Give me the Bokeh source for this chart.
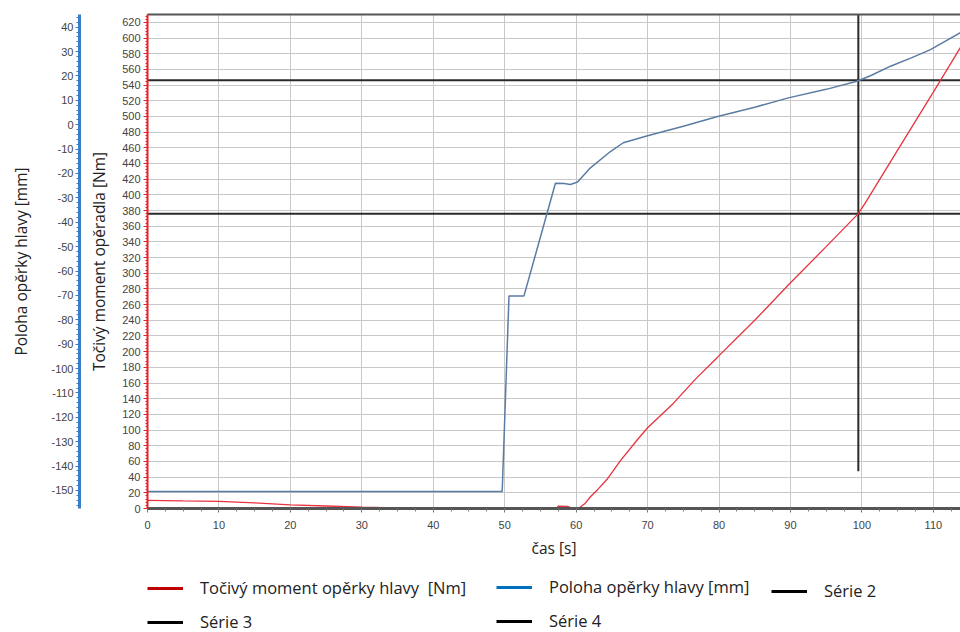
from bokeh.plotting import figure
from bokeh.layouts import column
from bokeh.models import (LinearAxis, Range1d, Legend, LegendItem, FixedTicker,
                          SingleIntervalTicker, NumeralTickFormatter)
from bokeh.embed import file_html
from bokeh.resources import INLINE

# ---- data ----
time_red = [0, 5, 10, 15, 20, 25, 30, 35, 40, 45, 50, 55, 57.3, 57.5, 58.8, 59.3,
            60.5, 61.2, 62, 63, 64.4, 66.2, 68.6, 70, 73.6, 76.7, 79.8, 85, 89.7,
            95, 99.5, 100.5, 105, 110, 113.8]
torque_red = [10.3, 9.6, 9.0, 7.2, 4.5, 3.2, 1.8, 0.9, 0.4, 0.3, 0.3, 0.4, 0.5, 3.0,
              2.8, 0.8, 1.2, 6, 15, 24, 38, 61, 88, 103, 134, 165, 193, 240, 285,
              334, 376, 390, 457, 531, 588]

time_blue = [0, 49.65, 50.6, 52.7, 57.1, 58.3, 59.2, 60.2, 62.0, 64.8, 66.6, 70.0,
             75, 79.8, 85, 89.7, 95, 99.3, 101.2, 104, 107, 109.6, 113.8]
pos_blue = [-150.4, -150.4, -70.2, -70.2, -24.0, -24.1, -24.5, -23.5, -17.7, -11.0,
            -7.4, -4.5, -0.6, 3.4, 7.2, 11.0, 14.5, 17.8, 20.1, 24.0, 27.5, 30.8, 37.8]

serie2_x = [0, 113.8]
serie2_y = [546, 546]
serie3_x = [0, 113.8]
serie3_y = [376, 376]
serie4_x = [99.5, 99.5]
serie4_y = [47.6, 630]

legend_labels = ["Točivý moment opěrky hlavy  [Nm]", "Poloha opěrky hlavy [mm]",
                 "Série 2", "Série 3", "Série 4"]

x_title = "čas [s]"
y_title_torque = "Točivý moment opěradla [Nm]"
y_title_pos = "Poloha opěrky hlavy [mm]"

TICK_FONT = "Liberation Sans"
TITLE_FONT = "Open Sans"
NAN = float("nan")

p = figure(width=960, height=572, output_backend="svg", toolbar_location=None,
           x_range=Range1d(0, 113.8), y_range=Range1d(0, 630),
           min_border_left=147, min_border_right=0, min_border_top=14,
           min_border_bottom=64)
p.outline_line_color = None
p.background_fill_color = "white"

p.extra_y_ranges = {"blue": Range1d(-157.4, 45.2)}

# grid
p.xgrid.grid_line_color = "#c8c8c8"
p.ygrid.grid_line_color = "#c8c8c8"

# x axis
xa = p.xaxis[0]
xa.ticker = SingleIntervalTicker(interval=10, num_minor_ticks=4)
xa.axis_line_color = "#555555"
xa.axis_line_width = 3
xa.major_tick_line_color = "#777777"
xa.major_tick_out = 4
xa.major_tick_in = 0
xa.minor_tick_line_color = "#777777"
xa.minor_tick_out = 3
xa.minor_tick_in = 0
xa.major_label_text_font = TICK_FONT
xa.major_label_text_font_size = "11px"
xa.major_label_text_color = "#444444"
xa.major_label_standoff = 8
xa.axis_label = x_title
xa.axis_label_text_font = TITLE_FONT
xa.axis_label_text_font_size = "15.5px"
xa.axis_label_text_font_style = "normal"
xa.axis_label_text_color = "#222222"
xa.axis_label_standoff = 5

# red (torque) y axis
ya = p.yaxis[0]
ya.ticker = SingleIntervalTicker(interval=20, num_minor_ticks=5)
ya.formatter = NumeralTickFormatter(format="0")
ya.axis_line_color = "#e8202a"
ya.axis_line_width = 2
ya.major_tick_line_color = "#e8202a"
ya.major_tick_out = 4
ya.major_tick_in = 0
ya.minor_tick_line_color = "#e8202a"
ya.minor_tick_out = 2
ya.minor_tick_in = 0
ya.major_label_text_font = TICK_FONT
ya.major_label_text_font_size = "11px"
ya.major_label_text_color = "#444444"
ya.major_label_standoff = 3
ya.axis_label = y_title_torque
ya.axis_label_text_font = TITLE_FONT
ya.axis_label_text_font_size = "15.5px"
ya.axis_label_text_font_style = "normal"
ya.axis_label_text_color = "#222222"
ya.axis_label_standoff = 9

# spacer axis between the two y axes (one invisible tick so its extent counts)
spacer = LinearAxis(y_range_name="blue", ticker=FixedTicker(ticks=[0]),
                    axis_line_color=None, major_tick_out=6, major_tick_in=0,
                    minor_tick_out=0, major_tick_line_color=None,
                    minor_tick_line_color=None, major_label_standoff=0,
                    major_label_text_font_size="1px",
                    major_label_text_color=None)
p.add_layout(spacer, "left")

# blue (position) y axis
ba = LinearAxis(y_range_name="blue",
                ticker=SingleIntervalTicker(interval=10, num_minor_ticks=5),
                formatter=NumeralTickFormatter(format="0"))
ba.axis_line_color = "#3a7dc8"
ba.axis_line_width = 3
ba.major_tick_line_color = "#3a7dc8"
ba.major_tick_out = 4
ba.major_tick_in = 0
ba.minor_tick_line_color = "#3a7dc8"
ba.minor_tick_out = 3
ba.minor_tick_in = 0
ba.major_label_text_font = TICK_FONT
ba.major_label_text_font_size = "11px"
ba.major_label_text_color = "#444444"
ba.major_label_standoff = 2
ba.axis_label = y_title_pos
ba.axis_label_text_font = TITLE_FONT
ba.axis_label_text_font_size = "15.5px"
ba.axis_label_text_font_style = "normal"
ba.axis_label_text_color = "#222222"
ba.axis_label_standoff = 16
p.add_layout(ba, "left")

# top border
top = LinearAxis(ticker=FixedTicker(ticks=[]), axis_line_color="#555555",
                 axis_line_width=2, major_tick_out=0, major_tick_in=0,
                 minor_tick_out=0, major_label_text_font_size="0px")
p.add_layout(top, "above")

# data lines
p.line(serie2_x, serie2_y, line_color="#2a2a2a", line_width=2)
p.line(serie3_x, serie3_y, line_color="#2a2a2a", line_width=2)
p.line(serie4_x, serie4_y, line_color="#2a2a2a", line_width=2)
p.line(time_blue, pos_blue, y_range_name="blue", line_color="#5a7ca3", line_width=1.5)
p.line(time_red, torque_red, line_color="#e8323e", line_width=1.3)

# ---- legend strip below the chart (its frame is aligned with the chart's) ----
lp = figure(width=960, height=60, output_backend="svg", toolbar_location=None,
            x_range=Range1d(0, 1), y_range=Range1d(0, 1),
            min_border_left=0, min_border_right=0, min_border_top=0,
            min_border_bottom=0)
lp.axis.visible = False
lp.grid.visible = False
lp.outline_line_color = None

r_red = lp.line([NAN], [NAN], line_color="#c00000", line_width=3)
r_blue = lp.line([NAN], [NAN], line_color="#0070c0", line_width=3)
r_s2 = lp.line([NAN], [NAN], line_color="#000000", line_width=3)
r_s3 = lp.line([NAN], [NAN], line_color="#000000", line_width=3)
r_s4 = lp.line([NAN], [NAN], line_color="#000000", line_width=3)


def make_legend(items, loc):
    lg = Legend(items=items, location=loc, orientation="vertical",
                border_line_color=None, background_fill_alpha=0,
                padding=0, margin=0, spacing=11, glyph_width=36, glyph_height=16,
                label_height=16, label_standoff=17,
                label_text_font=TITLE_FONT, label_text_font_size="16.5px",
                label_text_color="#222222")
    lp.add_layout(lg, "center")


make_legend([LegendItem(label=legend_labels[0], renderers=[r_red]),
             LegendItem(label=legend_labels[3], renderers=[r_s3])], (0, -1))
make_legend([LegendItem(label=legend_labels[1], renderers=[r_blue]),
             LegendItem(label=legend_labels[4], renderers=[r_s4])], (349, 0))
make_legend([LegendItem(label=legend_labels[2], renderers=[r_s2])], (624, 30))

open("out.html", "w").write(file_html(column(p, lp, spacing=0), INLINE))
